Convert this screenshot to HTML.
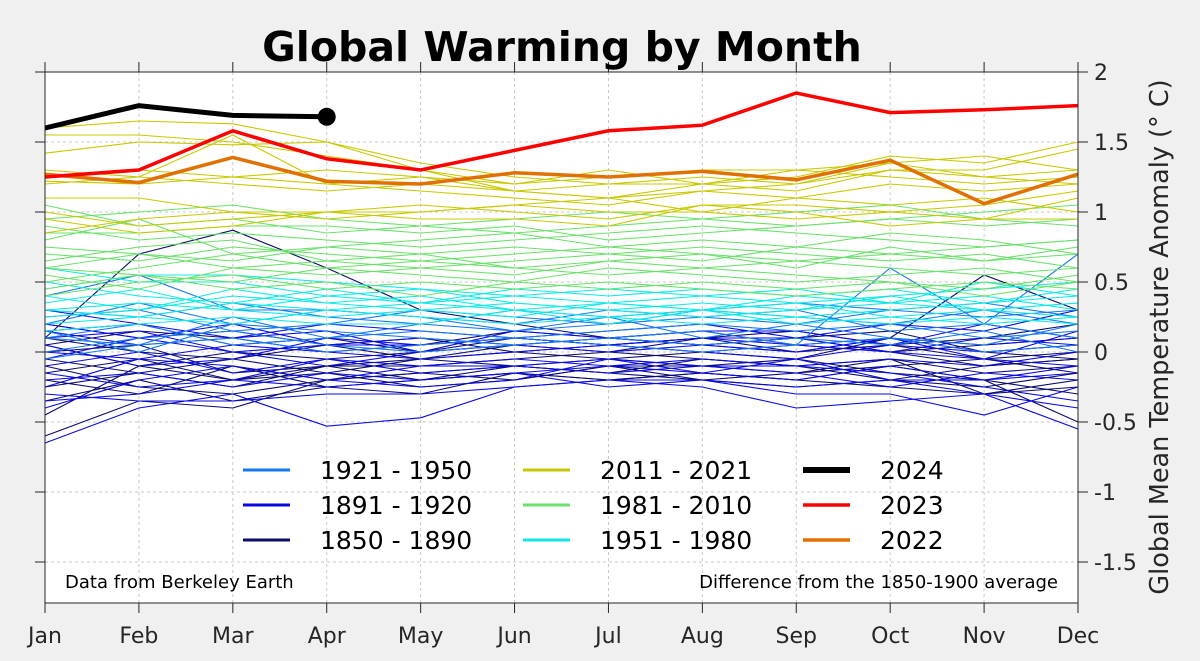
<!DOCTYPE html>
<html><head><meta charset="utf-8"><style>
html,body{margin:0;padding:0;background:#f0f0f0;}
svg{display:block;font-family:"DejaVu Sans","Liberation Sans",sans-serif;}
</style></head><body>
<svg id="chart" width="1200" height="661" viewBox="0 0 1200 661" xmlns="http://www.w3.org/2000/svg">
<rect x="0" y="0" width="1200" height="661" fill="#f0f0f0"/>
<rect x="45" y="72" width="1033" height="531" fill="#fff"/>
<g id="grid"></g>
<g id="series"></g>
<g id="axes"></g>
<g id="legend"></g>
<text x="562" y="61" font-size="41" font-weight="bold" text-anchor="middle" fill="#000">Global Warming by Month</text>
<text x="65" y="588" font-size="18" fill="#000">Data from Berkeley Earth</text>
<text x="1058" y="588" font-size="18" text-anchor="end" fill="#000">Difference from the 1850-1900 average</text>
<text transform="translate(1168,337) rotate(-90)" font-size="25.5" text-anchor="middle" fill="#262626">Global Mean Temperature Anomaly (° C)</text>
</svg>
<script>
const months = ["Jan","Feb","Mar","Apr","May","Jun","Jul","Aug","Sep","Oct","Nov","Dec"];
const yTicks = [2,1.5,1,0.5,0,-0.5,-1,-1.5];
const yTickLabels = ["2","1.5","1","0.5","0","-0.5","-1","-1.5"];
const groupNames = ["1850 - 1890","1891 - 1920","1921 - 1950","1951 - 1980","1981 - 2010","2011 - 2021"];
const g1850 = [
[-0.35,-0.2,-0.35,-0.25,-0.3,-0.15,-0.2,-0.15,-0.2,-0.25,-0.3,-0.2],
[-0.6,-0.35,-0.4,-0.2,-0.15,-0.1,-0.05,-0.1,-0.15,-0.1,-0.2,-0.5],
[0.1,0.7,0.87,0.6,0.3,0.2,0.1,0.05,0.1,0.15,0.0,-0.05],
[0.05,-0.1,0.0,-0.05,0.0,0.1,0.05,0.0,-0.05,0.1,0.55,0.3],
[-0.2,-0.3,-0.1,-0.25,-0.2,-0.1,-0.15,-0.2,-0.25,-0.2,-0.25,-0.15],
[0.2,0.1,0.15,0.05,0.1,0.0,0.05,0.1,0.0,0.05,0.1,0.2],
[-0.45,-0.1,-0.2,-0.1,-0.05,0.0,-0.05,0.0,0.05,0.0,-0.1,-0.05],
[0.0,0.05,-0.15,-0.1,-0.1,-0.05,0.0,-0.05,-0.1,-0.05,-0.15,-0.1],
[-0.1,-0.25,-0.3,-0.2,-0.15,-0.2,-0.1,-0.1,-0.05,-0.15,-0.2,-0.3],
[0.15,0.2,0.05,0.1,0.0,0.05,0.1,0.05,0.1,0.0,0.05,0.1],
[-0.15,-0.05,-0.2,-0.15,-0.05,-0.1,-0.15,-0.05,-0.1,-0.2,-0.1,-0.05],
[0.05,0.15,0.1,0.0,0.05,0.15,0.1,0.15,0.05,0.1,0.0,0.05],
[-0.25,-0.15,-0.05,-0.15,-0.25,-0.2,-0.1,-0.2,-0.15,-0.05,-0.3,-0.25],
[0.1,0.0,-0.05,0.05,-0.05,0.05,0.0,0.1,0.15,0.05,-0.05,0.0],
[-0.05,-0.15,-0.25,-0.1,-0.2,-0.15,-0.2,-0.15,-0.2,-0.1,-0.05,-0.15]];
const g1891 = [
[-0.65,-0.4,-0.3,-0.53,-0.47,-0.25,-0.2,-0.25,-0.4,-0.35,-0.3,-0.55],
[-0.3,-0.35,-0.35,-0.3,-0.3,-0.25,-0.2,-0.2,-0.3,-0.3,-0.45,-0.25],
[-0.1,0.0,-0.15,-0.05,-0.1,-0.05,-0.1,-0.05,-0.1,-0.05,-0.1,0.0],
[0.1,0.15,0.0,0.05,0.1,0.05,0.0,0.05,0.0,0.1,0.05,0.1],
[0.3,0.2,0.1,0.2,0.15,0.1,0.15,0.2,0.1,0.2,0.15,0.3],
[-0.2,-0.15,-0.25,-0.15,-0.2,-0.15,-0.1,-0.15,-0.2,-0.1,-0.2,-0.15],
[0.0,-0.05,0.05,0.0,-0.05,0.0,0.05,0.0,-0.05,0.05,0.0,0.05],
[-0.4,-0.2,-0.1,-0.2,-0.1,-0.1,-0.05,-0.1,-0.1,-0.15,-0.25,-0.35],
[0.2,0.1,0.2,0.05,0.05,0.1,0.05,0.1,0.05,0.0,-0.05,0.15],
[-0.05,0.1,0.0,-0.1,0.0,0.05,0.1,0.05,0.0,0.1,-0.05,-0.1],
[-0.15,-0.25,-0.2,-0.05,-0.15,-0.1,-0.15,-0.1,-0.15,-0.25,-0.15,-0.2],
[0.05,-0.1,-0.05,0.1,0.05,0.1,0.05,0.1,0.1,0.0,0.1,0.05],
[-0.25,-0.05,-0.1,-0.2,-0.25,-0.2,-0.05,-0.15,-0.05,-0.2,-0.2,-0.1],
[0.15,0.05,0.1,0.15,0.0,0.15,0.1,0.15,0.15,0.05,0.2,0.1],
[-0.35,-0.3,-0.2,-0.25,-0.2,-0.15,-0.25,-0.2,-0.25,-0.2,-0.3,-0.4]];
const g1921 = [
[0.1,0.2,0.05,0.1,0.15,0.1,0.15,0.2,0.15,0.2,0.1,0.15],
[0.3,0.25,0.35,0.25,0.2,0.3,0.25,0.3,0.35,0.3,0.25,0.3],
[-0.05,0.05,0.1,0.0,0.05,0.1,0.05,0.0,0.05,0.1,0.0,0.05],
[0.4,0.55,0.3,0.3,0.25,0.2,0.3,0.25,0.2,0.3,0.35,0.25],
[0.15,0.0,0.2,0.15,0.1,0.05,0.1,0.15,0.05,0.6,0.2,0.1],
[0.25,0.3,0.15,0.2,0.3,0.25,0.2,0.25,0.3,0.15,0.2,0.7],
[0.0,0.1,0.15,0.05,0.0,0.05,0.1,0.05,0.1,0.05,0.15,0.0],
[0.2,0.35,0.2,0.3,0.25,0.15,0.2,0.3,0.25,0.2,0.3,0.2],
[0.1,0.05,0.25,0.1,0.2,0.15,0.25,0.1,0.2,0.1,0.05,0.2]];
const g1951 = [
[0.45,0.55,0.55,0.5,0.45,0.4,0.45,0.4,0.35,0.4,0.45,0.5],
[0.3,0.35,0.3,0.25,0.3,0.35,0.3,0.25,0.3,0.35,0.3,0.35],
[0.2,0.25,0.2,0.3,0.25,0.2,0.25,0.3,0.2,0.25,0.2,0.25],
[0.4,0.3,0.45,0.35,0.4,0.3,0.35,0.4,0.45,0.35,0.4,0.3],
[0.5,0.4,0.35,0.45,0.35,0.4,0.35,0.3,0.4,0.45,0.35,0.4],
[0.25,0.3,0.4,0.35,0.3,0.25,0.35,0.3,0.25,0.3,0.35,0.45],
[0.35,0.45,0.3,0.4,0.45,0.35,0.3,0.35,0.3,0.4,0.3,0.35],
[0.15,0.2,0.25,0.2,0.2,0.3,0.25,0.2,0.25,0.2,0.25,0.2],
[0.6,0.5,0.5,0.4,0.35,0.45,0.4,0.45,0.4,0.35,0.5,0.4],
[0.3,0.25,0.35,0.3,0.35,0.3,0.2,0.3,0.35,0.25,0.3,0.25]];
const g1981 = [
[0.5,0.6,0.7,0.6,0.55,0.5,0.6,0.55,0.5,0.55,0.6,0.5],
[0.7,0.65,0.75,0.7,0.65,0.7,0.75,0.7,0.65,0.7,0.75,0.8],
[0.9,0.8,0.85,0.8,0.75,0.8,0.85,0.9,0.85,0.8,0.75,0.8],
[1.05,0.9,0.95,0.85,0.9,0.95,1.0,0.95,0.9,0.95,1.0,1.05],
[0.6,0.55,0.5,0.6,0.65,0.6,0.55,0.6,0.65,0.6,0.55,0.6],
[0.8,0.95,0.7,0.75,0.8,0.85,0.75,0.8,0.75,0.85,0.8,0.7],
[0.4,0.5,0.55,0.45,0.5,0.45,0.5,0.45,0.4,0.45,0.5,0.45],
[0.95,1.0,1.05,0.95,0.9,0.85,0.9,0.95,1.0,1.05,0.95,0.9],
[0.75,0.7,0.65,0.75,0.7,0.75,0.7,0.65,0.75,0.7,0.65,0.75],
[0.65,0.75,0.8,0.65,0.6,0.65,0.7,0.75,0.7,0.65,0.7,0.6],
[0.55,0.45,0.6,0.55,0.6,0.55,0.65,0.6,0.55,0.5,0.45,0.55],
[0.85,0.85,0.9,0.9,0.85,0.9,0.8,0.85,0.9,0.95,0.9,0.95],
[0.45,0.55,0.45,0.5,0.4,0.5,0.45,0.5,0.45,0.5,0.4,0.5],
[0.6,0.7,0.6,0.65,0.7,0.6,0.65,0.7,0.6,0.75,0.65,0.7]];
const g2011 = [
[1.6,1.65,1.63,1.5,1.35,1.25,1.2,1.2,1.25,1.4,1.35,1.5],
[1.55,1.55,1.5,1.4,1.3,1.2,1.25,1.3,1.3,1.35,1.4,1.3],
[1.42,1.5,1.48,1.5,1.3,1.15,1.1,1.2,1.15,1.3,1.3,1.45],
[1.22,1.2,1.25,1.2,1.15,1.1,1.05,1.15,1.1,1.2,1.15,1.2],
[1.1,1.1,1.0,1.0,1.05,1.0,0.95,1.05,1.05,1.0,0.95,1.1],
[0.85,0.95,1.0,0.95,1.0,1.05,1.0,1.0,1.1,1.05,1.1,1.0],
[1.0,0.9,0.95,1.0,0.95,0.95,0.9,1.05,1.0,0.9,0.95,0.95],
[1.2,1.25,1.2,1.15,1.2,1.15,1.2,1.25,1.2,1.3,1.25,1.3],
[1.3,1.25,1.55,1.2,1.25,1.15,1.1,1.15,1.2,1.35,1.25,1.2],
[0.95,0.85,0.9,1.0,1.0,1.05,1.1,1.0,0.95,1.0,1.05,1.15],
[1.25,1.3,1.25,1.3,1.25,1.2,1.3,1.2,1.3,1.25,1.2,1.25]];
const y2022 = [1.27,1.21,1.39,1.22,1.20,1.28,1.25,1.29,1.23,1.37,1.06,1.27];
const y2023 = [1.25,1.30,1.58,1.38,1.30,1.44,1.58,1.62,1.85,1.71,1.73,1.76];
const y2024 = [1.60,1.76,1.69,1.68];

const NS="http://www.w3.org/2000/svg";
const X0=45,X1=1078,Y0=72,Y1=603;
function xs(i){return X0+i*(X1-X0)/11;}
function ys(v){return 352-v*140;}
function mk(tag,attrs,parent){const e=document.createElementNS(NS,tag);for(const k in attrs)e.setAttribute(k,attrs[k]);parent.appendChild(e);return e;}
const grid=document.getElementById('grid'),ser=document.getElementById('series'),ax=document.getElementById('axes'),leg=document.getElementById('legend');
months.forEach((m,i)=>{
  if(i>0&&i<11){const l=mk('line',{x1:xs(i),x2:xs(i),y1:Y0,y2:Y1,stroke:'#c8c8c8','stroke-dasharray':'3,3','stroke-width':1},grid);
  
  }
  const t1=mk('line',{x1:xs(i),x2:xs(i),y1:Y0-10,y2:Y0,stroke:'#262626'},ax);
  
  
  const t2=mk('line',{x1:xs(i),x2:xs(i),y1:Y1,y2:Y1+10,stroke:'#262626'},ax);
  
  
  const t=mk('text',{x:xs(i),y:643,'font-size':22,'text-anchor':'middle',fill:'#262626'},ax);t.textContent=m;
  
  
});
yTicks.forEach((v,i)=>{
  if(v!==2){const l=mk('line',{x1:X0,x2:X1,y1:ys(v),y2:ys(v),stroke:'#c8c8c8','stroke-dasharray':'3,3'},grid);
  
  }
  const a=mk('line',{x1:X1,x2:X1+10,y1:ys(v),y2:ys(v),stroke:'#262626'},ax);
  
  
  const b=mk('line',{x1:X0-10,x2:X0,y1:ys(v),y2:ys(v),stroke:'#262626'},ax);
  
  
  const t=mk('text',{x:1094,y:ys(v)+8,'font-size':22,fill:'#262626'},ax);t.textContent=yTickLabels[i];
  
  
});
const frame=mk('rect',{x:X0,y:Y0,width:X1-X0,height:Y1-Y0,fill:'none',stroke:'#262626'},ax);


function pts(arr){return arr.map((v,i)=>xs(i)+','+ys(v)).join(' ');}
const groups=[[g1850,'#0b0b6e'],[g1891,'#0a0ae0'],[g1921,'#1478f0'],[g1951,'#10e8e8'],[g1981,'#6ce06c'],[g2011,'#c8c800']];
groups.forEach((g,gi)=>{g[0].forEach(arr=>{
  const p=mk('polyline',{points:pts(arr),fill:'none',stroke:g[1],'stroke-width':1.1},ser);
  
  
});});
const l22=mk('polyline',{points:pts(y2022),fill:'none',stroke:'#e07000','stroke-width':3.5},ser);


const l23=mk('polyline',{points:pts(y2023),fill:'none',stroke:'#ff0000','stroke-width':3.5},ser);


const l24=mk('polyline',{points:pts(y2024),fill:'none',stroke:'#000','stroke-width':5},ser);


const dot=mk('circle',{cx:xs(y2024.length-1),cy:ys(y2024[y2024.length-1]),r:9,fill:'#000'},ser);


const legItems=[["1921 - 1950",'#1478f0',3,243,470],["1891 - 1920",'#0a0ae0',3,243,505],["1850 - 1890",'#0b0b6e',3,243,540],
["2011 - 2021",'#c8c800',3,523,470],["1981 - 2010",'#6ce06c',3,523,505],["1951 - 1980",'#10e8e8',3,523,540],
["2024",'#000',6,803,470],["2023",'#ff0000',3.5,803,505],["2022",'#e07000',3.5,803,540]];
legItems.forEach(it=>{
  const l=mk('line',{x1:it[3],x2:it[3]+47,y1:it[4],y2:it[4],stroke:it[1],'stroke-width':it[2]},leg);
  
  
  const t=mk('text',{x:it[3]+77,y:it[4]+9,'font-size':25,fill:'#000'},leg);t.textContent=it[0];
  
  
});
</script>
</body></html>
